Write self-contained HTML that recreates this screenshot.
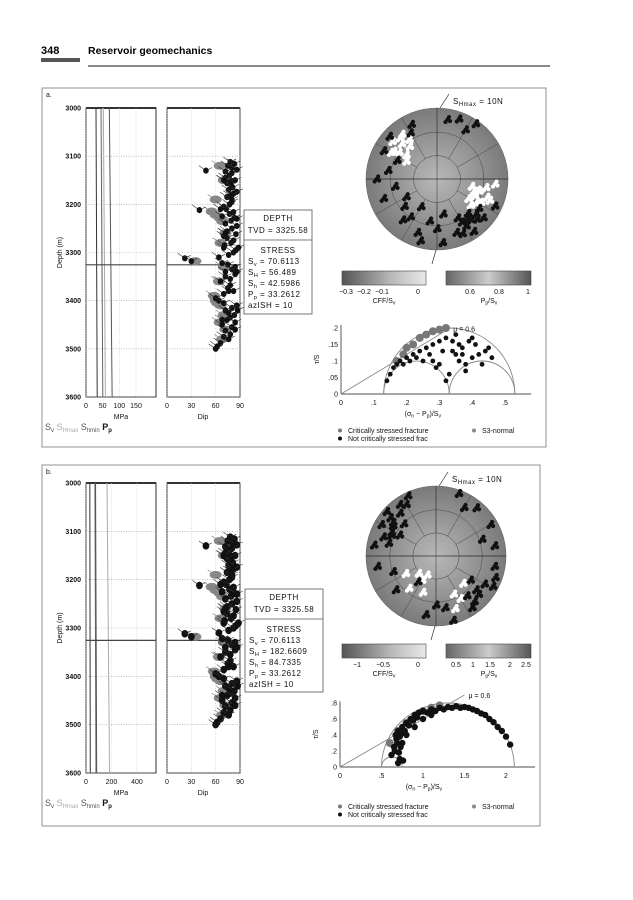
<!DOCTYPE html>
<html><head><meta charset="utf-8"><style>
body{margin:0;background:#fff;}
svg{display:block;font-family:"Liberation Sans",sans-serif;}
.t{font-size:7px;fill:#111;}
.s{font-size:8px;fill:#111;letter-spacing:0.5px}
</style></head><body>
<svg id="fig" width="633" height="900" viewBox="0 0 633 900">
<defs>
<radialGradient id="sg" cx="50%" cy="50%" r="50%">
<stop offset="0" stop-color="#b8b8b8"/><stop offset="0.5" stop-color="#999"/><stop offset="1" stop-color="#7a7a7a"/></radialGradient>
<linearGradient id="cb1"><stop offset="0" stop-color="#555"/><stop offset="0.6" stop-color="#bbb"/><stop offset="1" stop-color="#e8e8e8"/></linearGradient>
<linearGradient id="cb2"><stop offset="0" stop-color="#666"/><stop offset="0.5" stop-color="#ccc"/><stop offset="1" stop-color="#555"/></linearGradient>
</defs>
<text x="41" y="54" style="font-size:11px;font-weight:bold">348</text>
<rect x="41" y="58" width="39" height="4" fill="#555"/>
<text x="88" y="54" style="font-size:10.5px;font-weight:bold">Reservoir geomechanics</text>
<line x1="88" y1="66" x2="550" y2="66" stroke="#111" stroke-width="1"/>
<g id="pa"></g>
<g id="pb"></g>
</svg>
<script>
// ---------- data ----------
const depthTicks=[3000,3100,3200,3300,3400,3500,3600];
const mpaTicksA=[0,50,100,150];
const mpaTicksB=[0,200,400];
const dipTicks=[0,30,60,90];
const stressA={Sv:"70.6113",SH:"56.489",Sh:"42.5986",Pp:"33.2612",az:"10"};
const stressB={Sv:"70.6113",SH:"182.6609",Sh:"84.7335",Pp:"33.2612",az:"10"};
const profA=[30,45,52,70];
const profB=[30,70,165,75];
const dipDepthBlack=[3112,3116,3120,3124,3128,3132,3135,3140,3145,3150,3152,3156,3160,3165,3170,3174,3178,3182,3185,3190,3195,3200,3205,3210,3212,3216,3220,3225,3228,3234,3240,3245,3250,3256,3262,3266,3270,3275,3280,3285,3290,3295,3300,3305,3312,3318,3322,3325,3330,3335,3340,3345,3350,3355,3360,3368,3374,3380,3386,3395,3400,3405,3410,3415,3420,3425,3430,3435,3440,3445,3450,3455,3462,3470,3475,3480,3488,3495,3500,3130,3180,3230,3290,3340,3420,3460,3150,3210,3260,3310,3380,3440];
const dipValBlack=[78,83,75,80,86,72,80,77,72,84,79,74,79,81,76,86,82,78,74,80,80,77,70,73,40,82,77,68,83,79,72,86,80,74,85,70,74,82,79,71,70,85,82,76,22,30,68,75,84,80,72,84,72,78,66,78,75,82,70,60,64,70,86,80,72,76,83,78,74,84,68,80,72,78,70,76,66,62,60,48,80,86,88,86,87,84,70,66,72,64,76,68];
const dipDepthGray=[3120,3150,3190,3215,3222,3228,3235,3260,3280,3318,3330,3360,3390,3400,3405,3410,3430,3445,3460,3480];
const dipValGray=[65,70,60,55,60,65,68,72,66,35,70,64,58,60,62,66,70,65,72,68];
const netAz_a=[300,305,310,315,320,308,312,318,325,300,295,330,335,298,303,322,95,100,105,110,115,120,108,112,118,125,102,106,114,122,130,135,140,145,150,155,128,138,148,160,170,180,190,200,210,220,230,175,195,215,240,250,20,30,10,35,280,270,260,142,152,132];
const netR_a=[0.75,0.65,0.82,0.7,0.6,0.55,0.9,0.78,0.68,0.5,0.62,0.75,0.85,0.85,0.72,0.8,0.82,0.7,0.6,0.75,0.9,0.65,0.55,0.8,0.7,0.72,0.5,0.62,0.58,0.52,0.85,0.8,0.75,0.9,0.7,0.85,0.6,0.65,0.78,0.8,0.5,0.7,0.6,0.8,0.45,0.75,0.6,0.9,0.9,0.65,0.5,0.8,0.9,0.8,0.85,0.95,0.7,0.85,0.6,0.7,0.62,0.74];
const netC_a=[1,1,1,1,1,1,0,1,1,1,0,0,0,0,1,1,1,1,1,1,0,1,1,1,1,0,1,1,1,1,0,0,0,0,0,0,1,0,0,0,0,0,0,0,0,0,0,0,0,0,0,0,0,0,0,0,0,0,0,0,0,0];
const netAz_b=[290,295,300,305,310,315,320,325,285,300,312,330,335,280,298,308,100,110,120,130,140,150,160,125,135,145,155,165,170,180,190,200,210,220,230,240,250,260,205,215,225,40,20,30,60,70,80,132,142,118];
const netR_b=[0.8,0.7,0.9,0.75,0.85,0.65,0.8,0.9,0.7,0.6,0.95,0.85,0.95,0.9,0.72,0.78,0.85,0.9,0.8,0.75,0.85,0.7,0.8,0.6,0.55,0.9,0.6,0.95,0.75,0.7,0.85,0.55,0.4,0.6,0.75,0.5,0.65,0.85,0.3,0.45,0.35,0.9,0.95,0.8,0.9,0.7,0.85,0.82,0.72,0.92];
const netC_b=[0,0,0,0,0,0,0,0,0,0,0,0,0,0,0,0,0,0,0,0,0,1,1,0,1,0,1,0,0,0,0,1,1,1,0,1,0,0,1,0,1,0,0,0,0,0,0,0,0,0];
const mohrXa=[0.14,0.15,0.16,0.17,0.18,0.2,0.22,0.24,0.26,0.28,0.3,0.32,0.34,0.35,0.36,0.38,0.4,0.42,0.44,0.46,0.3,0.33,0.37,0.39,0.41,0.35,0.28,0.25,0.32,0.45,0.38,0.34,0.19,0.21,0.23,0.27,0.31,0.36,0.4,0.43,0.29,0.37];
const mohrYa=[0.04,0.06,0.08,0.09,0.1,0.11,0.12,0.13,0.14,0.15,0.16,0.17,0.16,0.12,0.1,0.09,0.11,0.12,0.13,0.11,0.09,0.06,0.14,0.16,0.15,0.18,0.1,0.1,0.04,0.14,0.07,0.13,0.09,0.1,0.11,0.12,0.13,0.15,0.17,0.09,0.08,0.12];
const mohrCritXa=[0.17,0.19,0.2,0.22,0.24,0.26,0.28,0.3,0.32];
const mohrCritYa=[0.1,0.12,0.14,0.15,0.17,0.18,0.19,0.195,0.2];
const mohrXb=[0.62,0.65,0.68,0.7,0.72,0.75,0.8,0.85,0.9,0.95,1.0,1.1,1.2,1.3,1.4,1.5,1.6,1.7,1.8,1.9,2.0,2.05,0.7,0.75,0.8,0.9,1.0,1.1,0.66,0.69,0.71,0.73,0.78,0.83,0.88,0.93,1.05,1.15,1.25,1.35,1.45,1.55,1.65,1.75,1.85,1.95,0.67,0.72,0.74,0.76];
const mohrYb=[0.15,0.25,0.35,0.45,0.1,0.5,0.55,0.6,0.65,0.68,0.7,0.72,0.74,0.75,0.76,0.75,0.72,0.67,0.6,0.5,0.38,0.28,0.05,0.3,0.4,0.5,0.6,0.65,0.2,0.3,0.18,0.25,0.45,0.52,0.58,0.62,0.68,0.7,0.72,0.74,0.74,0.74,0.7,0.65,0.56,0.45,0.4,0.38,0.42,0.08];
const mohrCritXb=[0.6,0.7,0.8,0.9,1.0,1.1,1.2];
const mohrCritYb=[0.3,0.45,0.55,0.62,0.7,0.74,0.77];

const NS="http://www.w3.org/2000/svg";
function el(p,tag,attrs,txt){const e=document.createElementNS(NS,tag);for(const k in attrs)e.setAttribute(k,attrs[k]);if(txt!==undefined)e.textContent=txt;p.appendChild(e);return e;}

function panel(g,cfg){
  const o=cfg;
  const r0=el(g,'rect',{x:42,y:o.top,width:o.right-42,height:o.bottom-o.top,fill:'none',stroke:'#777','stroke-width':0.8});
  
  
  el(g,'text',{x:46,y:o.top+9,class:'t','font-size':9},o.label);
  const yD=d=>o.y0+(d-3000)/600*(o.y1-o.y0);
  const T1=[86,156],T2=[167,240];
  const xM=v=>T1[0]+v/o.mpaMax*(T1[1]-T1[0]);
  const xDip=v=>T2[0]+v/90*(T2[1]-T2[0]);
  [T1,T2].forEach((T,i)=>{
    const f=el(g,'rect',{x:T[0],y:o.y0,width:T[1]-T[0],height:o.y1-o.y0,fill:'#fff',stroke:'#333','stroke-width':1});
    
    
    depthTicks.forEach(d=>{el(g,'line',{x1:T[0],x2:T[1],y1:yD(d),y2:yD(d),stroke:'#999','stroke-dasharray':'1,1.5','stroke-width':0.6});});
  });
  el(g,'line',{x1:T1[0],x2:T1[1],y1:o.y0,y2:o.y0,stroke:'#333','stroke-width':2});
  el(g,'line',{x1:T2[0],x2:T2[1],y1:o.y0,y2:o.y0,stroke:'#333','stroke-width':2});
  depthTicks.forEach(d=>{
    const t=el(g,'text',{x:81,y:yD(d)+2.5,class:'t','text-anchor':'end','font-weight':'bold','font-size':6.5},d);
    
    
  });
  o.mpaTicks.forEach(v=>{el(g,'line',{x1:xM(v),x2:xM(v),y1:o.y0,y2:o.y1,stroke:'#bbb','stroke-dasharray':'1,1.5','stroke-width':0.5});
    el(g,'text',{x:xM(v),y:o.y1+11,class:'t','text-anchor':'middle'},v);});
  dipTicks.forEach(v=>{el(g,'line',{x1:xDip(v),x2:xDip(v),y1:o.y0,y2:o.y1,stroke:'#bbb','stroke-dasharray':'1,1.5','stroke-width':0.5});
    el(g,'text',{x:xDip(v),y:o.y1+11,class:'t','text-anchor':'middle'},v);});
  el(g,'text',{x:121,y:o.y1+22,class:'t','text-anchor':'middle','font-size':9},'MPa');
  el(g,'text',{x:203,y:o.y1+22,class:'t','text-anchor':'middle','font-size':9},'Dip');
  const yl=el(g,'text',{x:0,y:0,class:'t','text-anchor':'middle','font-size':9,transform:`translate(62,${(o.y0+o.y1)/2}) rotate(-90)`},'Depth (m)');
  
  
  const lg=el(g,'text',{x:o.legX,y:o.y1+33,style:'font-size:9px'});
  lg.innerHTML='<tspan fill="#555">S<tspan style="font-size:6px" dy="2">v</tspan></tspan><tspan dy="-2" fill="#aaa"> S<tspan style="font-size:6px" dy="2">Hmax</tspan></tspan><tspan dy="-2" fill="#555"> S<tspan style="font-size:6px" dy="2">hmin</tspan></tspan><tspan dy="-2" fill="#111" font-weight="bold"> P<tspan style="font-size:6px" dy="2">p</tspan></tspan>';
  const cols=['#333','#666','#aaa','#555'];
  o.prof.forEach((v,i)=>{
    const l=el(g,'line',{x1:xM(v),y1:o.y0,x2:xM(v*1.12),y2:o.y1,stroke:cols[i],'stroke-width':1});
    
    
  });
  const yt=yD(3325.58);
  el(g,'line',{x1:T1[0],x2:T1[1],y1:yt,y2:yt,stroke:'#444','stroke-width':1.2});
  el(g,'line',{x1:T2[0],x2:T2[1],y1:yt,y2:yt,stroke:'#444','stroke-width':1.2});
  dipDepthGray.forEach((d,i)=>{
    const x=xDip(dipValGray[i]),y=yD(d);
    el(g,'line',{x1:x,y1:y,x2:x-8,y2:y-5,stroke:'#777','stroke-width':0.6});
    const c=el(g,'ellipse',{cx:x,cy:y,rx:6,ry:4,fill:'#888'});
    
    
  });
  dipDepthBlack.forEach((d,i)=>{
    const x=xDip(dipValBlack[i]),y=yD(d);
    el(g,'line',{x1:x,y1:y,x2:x-7,y2:y-5,stroke:'#333','stroke-width':0.6});
    el(g,'line',{x1:x,y1:y,x2:x+6,y2:y-3,stroke:'#333','stroke-width':0.6});
    const c=el(g,'ellipse',{cx:x,cy:y,rx:o.dotR,ry:o.dotR*1.1,fill:'#111'});
    
    
  });
  const B=o.box;
  const bx=el(g,'rect',{x:B[0],y:B[1],width:B[2],height:B[3],fill:'#fff',stroke:'#555','stroke-width':0.8});
  
  
  el(g,'line',{x1:B[0],x2:B[0]+B[2],y1:B[1]+30,y2:B[1]+30,stroke:'#555','stroke-width':0.8});
  const cx=B[0]+B[2]/2;
  el(g,'text',{x:cx,y:B[1]+11,class:'s','text-anchor':'middle'},'DEPTH');
  el(g,'text',{x:cx,y:B[1]+23,class:'s','text-anchor':'middle'},'TVD = 3325.58');
  el(g,'text',{x:cx,y:B[1]+43,class:'s','text-anchor':'middle'},'STRESS');
  const st=o.stress;
  const rows=[['S','v',st.Sv],['S','H',st.SH],['S','h',st.Sh],['P','p',st.Pp]];
  rows.forEach((r,i)=>{const t=el(g,'text',{x:B[0]+4,y:B[1]+54+i*11,class:'s'});
    t.innerHTML=`${r[0]}<tspan font-size="5.5" dy="2">${r[1]}</tspan><tspan dy="-2"> = ${r[2]}</tspan>`;});
  el(g,'text',{x:B[0]+4,y:B[1]+98,class:'s'},'azISH = '+st.az);
  const [nx,ny,nr]=o.net;
  const nc=el(g,'circle',{cx:nx,cy:ny,r:nr,fill:'url(#sg)',stroke:'#666','stroke-width':0.6});
  
  
  [0.33,0.66].forEach(f=>el(g,'circle',{cx:nx,cy:ny,r:nr*f,fill:'none',stroke:'#444','stroke-width':0.5}));
  for(let a=0;a<360;a+=30){const rd=a*Math.PI/180;
    el(g,'line',{x1:nx+Math.sin(rd)*nr*0.33,y1:ny-Math.cos(rd)*nr*0.33,x2:nx+Math.sin(rd)*nr,y2:ny-Math.cos(rd)*nr,stroke:'#444','stroke-width':0.5});}
  el(g,'line',{x1:nx-nr,x2:nx+nr,y1:ny,y2:ny,stroke:'#333','stroke-width':0.8});
  el(g,'line',{x1:nx,x2:nx,y1:ny-nr,y2:ny+nr,stroke:'#333','stroke-width':0.5});
  const jit=[[0,0],[2.5,1.5],[-2,2.5],[1.5,-2.5]];
  o.naz.forEach((a,i)=>{const rd=a*Math.PI/180,rr=o.nr_[i]*nr;
    const px=nx+Math.sin(rd)*rr,py=ny-Math.cos(rd)*rr,f=o.nc_[i]?'#fff':'#111';
    jit.forEach((j,k)=>{const p=el(g,'circle',{cx:px+j[0],cy:py+j[1],r:2.1,fill:f});
      if(k===0){
      }});
  });
  el(g,'line',{x1:nx+12,y1:ny-nr-14,x2:nx+3,y2:ny-nr,stroke:'#111','stroke-width':0.6});
  el(g,'line',{x1:nx-5,y1:ny+nr+14,x2:nx-1,y2:ny+nr,stroke:'#111','stroke-width':0.6});
  const sh=el(g,'text',{x:nx+16,y:ny-nr-4,class:'s'});
  sh.innerHTML='S<tspan font-size="6" dy="2">Hmax</tspan><tspan dy="-2"> = 10N</tspan>';
  const cy=o.cbY;
  const c1=el(g,'rect',{x:342,y:cy,width:84,height:14,fill:'url(#cb1)',stroke:'#444','stroke-width':0.6});
  
  
  const c2=el(g,'rect',{x:446,y:cy,width:85,height:14,fill:'url(#cb2)',stroke:'#444','stroke-width':0.6});
  
  
  o.cb1.forEach(t=>el(g,'text',{x:t[1],y:cy+23,class:'t','text-anchor':'middle'},t[0]));
  o.cb2.forEach(t=>el(g,'text',{x:t[1],y:cy+23,class:'t','text-anchor':'middle'},t[0]));
  const l1=el(g,'text',{x:384,y:cy+32,class:'t','text-anchor':'middle'});l1.innerHTML='CFF/S<tspan font-size="5" dy="1.5">v</tspan>';
  const l2=el(g,'text',{x:489,y:cy+32,class:'t','text-anchor':'middle'});l2.innerHTML='P<tspan font-size="5" dy="1.5">p</tspan><tspan dy="-1.5">/S</tspan><tspan font-size="5" dy="1.5">v</tspan>';
  const M=o.mohr;
  const mx=v=>M.x0+v*M.sx, my=v=>M.y0-v*M.sy;
  el(g,'line',{x1:mx(0),x2:mx(0),y1:M.y0,y2:my(M.ymax),stroke:'#111','stroke-width':0.7});
  el(g,'line',{x1:mx(0),x2:mx(M.xmax),y1:M.y0,y2:M.y0,stroke:'#111','stroke-width':0.7});
  M.xt.forEach(v=>el(g,'text',{x:mx(v),y:M.y0+11,class:'t','text-anchor':'middle'},M.xl(v)));
  M.yt.forEach(v=>el(g,'text',{x:mx(0)-3,y:my(v)+2.5,class:'t','text-anchor':'end'},M.yl(v)));
  const xt=el(g,'text',{x:mx(M.xmax*0.43),y:M.y0+22,class:'t','text-anchor':'middle','font-size':7.5});
  xt.innerHTML='(σ<tspan font-size="5" dy="1.5">n</tspan><tspan dy="-1.5"> − P</tspan><tspan font-size="5" dy="1.5">p</tspan><tspan dy="-1.5">)/S</tspan><tspan font-size="5" dy="1.5">v</tspan>';
  el(g,'text',{x:0,y:0,class:'t','text-anchor':'middle',transform:`translate(${mx(0)-22},${my(M.ymax/2)}) rotate(-90)`},'τ/S');
  M.circ.forEach(c=>{const a=mx(c[0]),b=mx(c[1]),r=(b-a)/2;
    el(g,'path',{d:`M${a},${M.y0} A${r},${r*M.sy/M.sx} 0 0 1 ${b},${M.y0}`,fill:'none',stroke:'#888','stroke-width':0.9});});
  const fl=el(g,'line',{x1:mx(0),y1:M.y0,x2:mx(M.fx),y2:my(M.fx*0.6),stroke:'#888','stroke-width':0.9});
  
  
  el(g,'text',{x:mx(M.fx)+4,y:my(M.fx*0.6)+3,class:'t'},'μ = 0.6');
  M.cx.forEach((v,i)=>{const p=el(g,'circle',{cx:mx(v),cy:my(M.cy[i]),r:4,fill:'#777'});
    
    });
  M.px.forEach((v,i)=>{const p=el(g,'circle',{cx:mx(v),cy:my(M.py[i]),r:M.pr,fill:'#111'});
    
    });
  const L=o.legY;
  el(g,'circle',{cx:340,cy:L-2.5,r:2,fill:'#777'});
  el(g,'text',{x:348,y:L,class:'t'},'Critically stressed fracture');
  el(g,'circle',{cx:340,cy:L+5.5,r:2,fill:'#111'});
  el(g,'text',{x:348,y:L+8,class:'t'},'Not critically stressed frac');
  el(g,'circle',{cx:o.s3x,cy:L-2.5,r:2,fill:'#888'});
  el(g,'text',{x:o.s3x+8,y:L,class:'t'},'S3-normal');
}
panel(document.getElementById('pa'),{label:'a.',top:88,bottom:447,right:546,y0:108,y1:397,mpaMax:210,mpaTicks:mpaTicksA,prof:profA,legX:45,
  box:[244,210,68,104],stress:stressA,net:[437,179,71],naz:netAz_a,nr_:netR_a,nc_:netC_a,cbY:271,dotR:2.8,
  cb1:[['−0.3',346],['−0.2',364],['−0.1',382],['0',418]],cb2:[['0.6',470],['0.8',499],['1',528]],
  mohr:{x0:341,y0:394,sx:328,sy:330,xmax:0.58,ymax:0.21,xt:[0,0.1,0.2,0.3,0.4,0.5],yt:[0,0.05,0.1,0.15,0.2],
   xl:v=>v?String(v).replace(/^0/,''):'0',yl:v=>v?String(v).replace(/^0/,''):'0',
   circ:[[0.13,0.53],[0.13,0.33],[0.33,0.53]],fx:0.33,cx:mohrCritXa,cy:mohrCritYa,px:mohrXa,py:mohrYa,pr:2.4},
  legY:433,s3x:474});
panel(document.getElementById('pb'),{label:'b.',top:465,bottom:826,right:540,y0:483,y1:773,mpaMax:550,mpaTicks:mpaTicksB,prof:profB,legX:45,
  box:[245,589,78,103],stress:stressB,net:[436,556,70],naz:netAz_b,nr_:netR_b,nc_:netC_b,cbY:644,dotR:3.4,
  cb1:[['−1',357],['−0.5',383],['0',418]],cb2:[['0.5',456],['1',473],['1.5',490],['2',510],['2.5',526]],
  mohr:{x0:340,y0:767,sx:83,sy:80,xmax:2.35,ymax:0.82,xt:[0,0.5,1,1.5,2],yt:[0,0.2,0.4,0.6,0.8],
   xl:v=>String(v).replace(/^0\./,'.'),yl:v=>String(v).replace(/^0\./,'.'),
   circ:[[0.5,2.1],[0.5,0.75]],fx:1.5,cx:mohrCritXb,cy:mohrCritYb,px:mohrXb,py:mohrYb,pr:3.2},
  legY:809,s3x:474});
</script>
</body></html>
